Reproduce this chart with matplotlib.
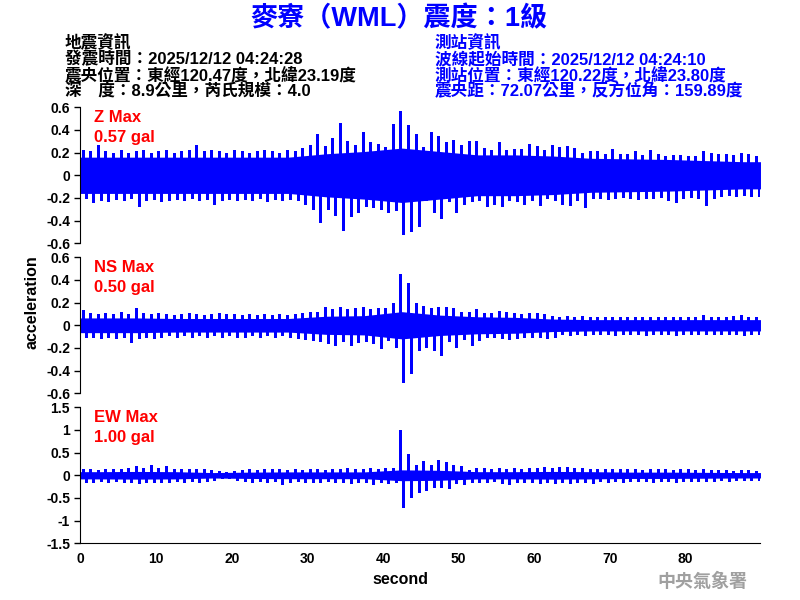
import matplotlib
matplotlib.use('Agg')
import matplotlib.pyplot as plt
import numpy as np

# per second peaks (gal), second 0 .. 89
z_hi = [0.22, 0.21, 0.27, 0.21, 0.20, 0.22, 0.20, 0.21, 0.22, 0.20,
        0.21, 0.22, 0.20, 0.21, 0.22, 0.27, 0.21, 0.22, 0.21, 0.20,
        0.22, 0.21, 0.20, 0.21, 0.22, 0.21, 0.20, 0.22, 0.21, 0.24,
        0.27, 0.36, 0.26, 0.33, 0.46, 0.30, 0.27, 0.38, 0.29, 0.28,
        0.25, 0.45, 0.57, 0.44, 0.36, 0.25, 0.38, 0.35, 0.29, 0.31,
        0.27, 0.30, 0.30, 0.24, 0.22, 0.29, 0.22, 0.23, 0.23, 0.28,
        0.26, 0.22, 0.27, 0.25, 0.26, 0.24, 0.20, 0.21, 0.21, 0.19,
        0.23, 0.19, 0.19, 0.21, 0.18, 0.22, 0.19, 0.17, 0.18, 0.18,
        0.17, 0.17, 0.21, 0.20, 0.19, 0.19, 0.18, 0.20, 0.19, 0.17]
z_lo = [-0.20, -0.24, -0.22, -0.23, -0.21, -0.22, -0.20, -0.27, -0.22, -0.21,
        -0.23, -0.22, -0.21, -0.22, -0.20, -0.22, -0.21, -0.25, -0.22, -0.21,
        -0.22, -0.21, -0.22, -0.20, -0.23, -0.21, -0.22, -0.21, -0.22, -0.25,
        -0.30, -0.41, -0.30, -0.35, -0.48, -0.36, -0.32, -0.27, -0.28, -0.30,
        -0.32, -0.31, -0.52, -0.49, -0.45, -0.22, -0.32, -0.38, -0.23, -0.32,
        -0.25, -0.23, -0.22, -0.27, -0.25, -0.27, -0.22, -0.23, -0.25, -0.22,
        -0.26, -0.20, -0.22, -0.25, -0.26, -0.22, -0.28, -0.20, -0.20, -0.21,
        -0.20, -0.19, -0.20, -0.21, -0.20, -0.20, -0.19, -0.22, -0.24, -0.20,
        -0.19, -0.20, -0.26, -0.20, -0.18, -0.17, -0.18, -0.17, -0.18, -0.18]

ns_hi = [0.135, 0.11, 0.10, 0.11, 0.10, 0.12, 0.10, 0.15, 0.11, 0.10,
         0.11, 0.10, 0.09, 0.10, 0.11, 0.10, 0.09, 0.10, 0.11, 0.10,
         0.10, 0.09, 0.10, 0.09, 0.10, 0.09, 0.10, 0.09, 0.10, 0.11,
         0.12, 0.12, 0.165, 0.14, 0.165, 0.14, 0.15, 0.16, 0.14, 0.15,
         0.15, 0.20, 0.45, 0.37, 0.20, 0.17, 0.15, 0.165, 0.165, 0.15,
         0.12, 0.12, 0.14, 0.11, 0.11, 0.125, 0.115, 0.105, 0.10, 0.11,
         0.105, 0.10, 0.08, 0.075, 0.085, 0.075, 0.08, 0.07, 0.075, 0.07,
         0.077, 0.07, 0.075, 0.07, 0.077, 0.07, 0.072, 0.07, 0.075, 0.07,
         0.07, 0.075, 0.088, 0.07, 0.075, 0.07, 0.078, 0.09, 0.075, 0.07]
ns_lo = [-0.105, -0.10, -0.11, -0.10, -0.11, -0.10, -0.145, -0.11, -0.10, -0.11,
         -0.10, -0.09, -0.10, -0.09, -0.10, -0.09, -0.10, -0.09, -0.10, -0.09,
         -0.10, -0.10, -0.09, -0.10, -0.09, -0.10, -0.09, -0.10, -0.11, -0.12,
         -0.13, -0.14, -0.16, -0.175, -0.14, -0.17, -0.15, -0.14, -0.16, -0.20,
         -0.13, -0.19, -0.50, -0.42, -0.22, -0.19, -0.22, -0.26, -0.135, -0.19,
         -0.12, -0.175, -0.13, -0.105, -0.105, -0.11, -0.12, -0.115, -0.10, -0.105,
         -0.10, -0.115, -0.10, -0.075, -0.085, -0.08, -0.085, -0.08, -0.075, -0.08,
         -0.085, -0.08, -0.075, -0.08, -0.085, -0.08, -0.075, -0.08, -0.085, -0.08,
         -0.075, -0.08, -0.08, -0.075, -0.08, -0.08, -0.075, -0.09, -0.08, -0.075]

ew_hi = [0.13, 0.14, 0.12, 0.13, 0.14, 0.13, 0.15, 0.21, 0.15, 0.22,
         0.15, 0.20, 0.14, 0.13, 0.14, 0.13, 0.14, 0.12, 0.09, 0.08,
         0.10, 0.12, 0.13, 0.12, 0.13, 0.14, 0.13, 0.12, 0.13, 0.12,
         0.14, 0.13, 0.12, 0.14, 0.13, 0.15, 0.13, 0.14, 0.15, 0.13,
         0.16, 0.16, 1.00, 0.47, 0.23, 0.31, 0.23, 0.34, 0.29, 0.22,
         0.21, 0.12, 0.17, 0.15, 0.14, 0.16, 0.13, 0.15, 0.14, 0.16,
         0.17, 0.19, 0.16, 0.18, 0.19, 0.17, 0.16, 0.14, 0.13, 0.14,
         0.13, 0.14, 0.13, 0.14, 0.12, 0.13, 0.14, 0.13, 0.12, 0.13,
         0.14, 0.12, 0.13, 0.12, 0.11, 0.12, 0.10, 0.12, 0.11, 0.10]
ew_lo = [-0.14, -0.15, -0.13, -0.14, -0.13, -0.15, -0.14, -0.17, -0.14, -0.15,
         -0.14, -0.15, -0.13, -0.14, -0.13, -0.14, -0.12, -0.11, -0.07, -0.07,
         -0.10, -0.13, -0.14, -0.13, -0.14, -0.13, -0.20, -0.14, -0.13, -0.14,
         -0.15, -0.14, -0.13, -0.15, -0.14, -0.16, -0.14, -0.15, -0.20, -0.15,
         -0.16, -0.15, -0.69, -0.47, -0.37, -0.32, -0.25, -0.25, -0.28, -0.17,
         -0.20, -0.15, -0.14, -0.15, -0.13, -0.16, -0.20, -0.15, -0.14, -0.15,
         -0.16, -0.15, -0.17, -0.15, -0.16, -0.15, -0.14, -0.16, -0.13, -0.14,
         -0.13, -0.14, -0.13, -0.12, -0.13, -0.14, -0.12, -0.13, -0.14, -0.12,
         -0.13, -0.12, -0.13, -0.12, -0.11, -0.12, -0.11, -0.10, -0.11, -0.10]

# solid core of each trace, one value per 5 s block (block centres 2.5, 7.5, ...)
z_core = [0.16, 0.16, 0.16, 0.16, 0.16, 0.16, 0.19, 0.21, 0.24, 0.21,
          0.18, 0.18, 0.17, 0.15, 0.145, 0.14, 0.13, 0.12]
ns_core = [0.065, 0.065, 0.06, 0.06, 0.06, 0.06, 0.08, 0.085, 0.12, 0.09,
           0.075, 0.07, 0.055, 0.05, 0.05, 0.05, 0.05, 0.05]
ew_core = [0.08, 0.085, 0.08, 0.06, 0.07, 0.075, 0.075, 0.075, 0.12, 0.11,
           0.08, 0.08, 0.085, 0.08, 0.07, 0.07, 0.065, 0.06]

comp_names = ['Z', 'NS', 'EW']
comp_max = ['0.57', '0.50', '1.00']
y_ticks = [[-0.6, -0.4, -0.2, 0, 0.2, 0.4, 0.6],
           [-0.6, -0.4, -0.2, 0, 0.2, 0.4, 0.6],
           [-1.5, -1, -0.5, 0, 0.5, 1, 1.5]]
y_labels = [['-0.6', '-0.4', '-0.2', '0', '0.2', '0.4', '0.6'],
            ['-0.6', '-0.4', '-0.2', '0', '0.2', '0.4', '0.6'],
            ['-1.5', '-1', '-0.5', '0', '0.5', '1', '1.5']]
x_ticks = [0, 10, 20, 30, 40, 50, 60, 70, 80]
t_end = 89.9

title = '麥寮（WML）震度：1級'
eq_info = ['地震資訊',
           '發震時間：2025/12/12 04:24:28',
           '震央位置：東經120.47度，北緯23.19度',
           '深　度：8.9公里，芮氏規模：4.0']
st_info = ['測站資訊',
           '波線起始時間：2025/12/12 04:24:10',
           '測站位置：東經120.22度，北緯23.80度',
           '震央距：72.07公里，反方位角：159.89度']

fam = ['Liberation Sans', 'Noto Sans CJK TC']
plt.rcParams['font.family'] = fam
plt.rcParams['font.weight'] = 'bold'

fig = plt.figure(figsize=(8, 6), dpi=100)

his = [z_hi, ns_hi, ew_hi]
los = [z_lo, ns_lo, ew_lo]
cores = [z_core, ns_core, ew_core]
bottoms = [0.5945, 0.3445, 0.0945]

for k in range(3):
    ax = fig.add_axes([0.1006, bottoms[k], 0.85, 0.2267])
    sec = np.arange(len(his[k]))
    # core band: block centres, held flat out to both ends
    cx = [0] + list(np.arange(2.5, 90, 5)) + [t_end]
    cy = [cores[k][0]] + cores[k] + [cores[k][-1]]
    ax.fill_between(cx, [-c for c in cy], cy, color='blue', lw=0)
    ax.vlines(sec + 0.3, 0, his[k], color='blue', lw=0.75, antialiased=False)
    ax.vlines(sec + 0.7, los[k], 0, color='blue', lw=0.75, antialiased=False)

    ax.set_xlim(0, t_end)
    ax.set_ylim(y_ticks[k][0], y_ticks[k][-1])
    ax.set_yticks(y_ticks[k])
    ax.set_yticklabels(y_labels[k])
    ax.spines['top'].set_visible(False)
    ax.spines['right'].set_visible(False)
    ax.tick_params(axis='y', length=4, width=1, labelsize=10)
    if k < 2:
        ax.spines['bottom'].set_visible(False)
        ax.set_xticks([])
    else:
        ax.set_xticks(x_ticks)
        ax.tick_params(axis='x', length=0, labelsize=10, pad=6)
    ax.text(0.02, 0.926, comp_names[k] + ' Max', transform=ax.transAxes,
            color='red', fontsize=12, va='center')
    ax.text(0.02, 0.779, comp_max[k] + ' gal', transform=ax.transAxes,
            color='red', fontsize=12, va='center')

fig.text(0.499, 1 - 19 / 600, title, color='blue', fontsize=19.5,
         ha='center', va='center')
for i in range(4):
    yy = 1 - (43 + 16 * i) / 600
    fig.text(65 / 800, yy, eq_info[i], color='black', fontsize=12, va='center')
    fig.text(435 / 800, yy, st_info[i], color='blue', fontsize=12, va='center')

fig.text(32 / 800, 1 - 302 / 600, 'acceleration', rotation=90, fontsize=11.5,
         ha='center', va='center')
fig.text(400 / 800, 1 - 580 / 600, 'second', fontsize=11.5, ha='center', va='center')
fig.text(702 / 800, 1 - 581 / 600, '中央氣象署', color='#a0a0a0', fontsize=13,
         ha='center', va='center', family=['Noto Sans CJK TC'])

plt.savefig('out.png', dpi=100)
